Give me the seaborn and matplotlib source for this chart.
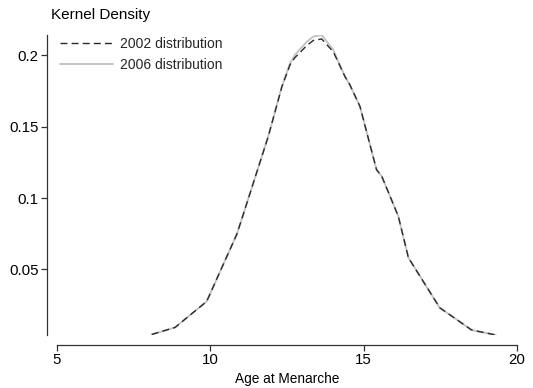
import matplotlib
matplotlib.use("Agg")
import matplotlib.pyplot as plt
import seaborn as sns
import pandas as pd

# Kernel density estimates of age at menarche, evaluated on a common grid
age = [8.09, 8.85, 9.88, 10.86, 11.02, 11.89, 12.33, 12.60, 12.76, 13.15, 13.36,
       13.63, 14.01, 14.39, 14.55, 14.88, 15.42, 15.59, 16.13, 16.46, 17.48,
       18.52, 19.31]
density_2006 = [0.0045, 0.0094, 0.0276, 0.0745, 0.0850, 0.1433, 0.1781, 0.1945,
                0.2004, 0.2097, 0.2132, 0.2143, 0.2038, 0.1852, 0.1794, 0.1642,
                0.1199, 0.1153, 0.0873, 0.0582, 0.0232, 0.0076, 0.0041]
density_2002 = [0.0045, 0.0094, 0.0276, 0.0745, 0.0850, 0.1433, 0.1778, 0.1935,
                0.1985, 0.2070, 0.2105, 0.2115, 0.2025, 0.1852, 0.1794, 0.1642,
                0.1199, 0.1153, 0.0873, 0.0582, 0.0232, 0.0076, 0.0041]
labels = ["2002 distribution", "2006 distribution"]
x_ticks = [5, 10, 15, 20]
y_ticks = [0.05, 0.1, 0.15, 0.2]
y_tick_labels = ["0.05", "0.1", "0.15", "0.2"]

sns.set_style("white")
plt.rcParams["font.family"] = ["Liberation Sans", "DejaVu Sans"]

df = pd.DataFrame({"age": age, "d2002": density_2002, "d2006": density_2006})

fig = plt.figure(figsize=(5.33, 3.88), dpi=100)
ax = fig.add_axes([57 / 533, 1 - 335 / 388, 460 / 533, 300 / 388])

sns.lineplot(data=df, x="age", y="d2006", ax=ax, color="#c4c4c4", linewidth=1.4,
             sort=False, estimator=None)
line06 = ax.lines[-1]
sns.lineplot(data=df, x="age", y="d2002", ax=ax, color="#2a2a2a", linewidth=1.0,
             sort=False, estimator=None)
line02 = ax.lines[-1]
line02.set_dashes((5, 3))

ax.set_xlim(5, 20)
ymin = min(density_2002 + density_2006)
ymax = max(density_2002 + density_2006)
ax.set_ylim(ymin, ymax)

ax.set_xticks(x_ticks)
ax.set_xticklabels([str(t) for t in x_ticks])
ax.set_yticks(y_ticks)
ax.set_yticklabels(y_tick_labels)

# Stata-like detached axes: spines pushed 10 px away from the plot region
gap_pt = 10 * 72 / 100
for side in ("top", "right"):
    ax.spines[side].set_visible(False)
ax.spines["left"].set_position(("outward", gap_pt))
ax.spines["bottom"].set_position(("outward", gap_pt))
for side in ("left", "bottom"):
    ax.spines[side].set_color("#333333")
    ax.spines[side].set_linewidth(0.9)

ax.tick_params(axis="both", which="major", direction="out", length=4, width=0.9,
               color="#333333", labelsize=10.8, labelcolor="black")
ax.tick_params(axis="y", pad=2)
ax.tick_params(axis="x", pad=2)
ax.tick_params(left=True, bottom=True)

ax.set_xlabel("Age at Menarche", fontsize=9.8, labelpad=3, color="black")
ax.set_ylabel("")
fig.text(51 / 533, 1 - 15 / 388, "Kernel Density", fontsize=11,
         ha="left", va="center", color="black")

leg = ax.legend(handles=[line02, line06], labels=labels, loc="upper left",
                bbox_to_anchor=(-0.005, 1.012), frameon=False, fontsize=10,
                handlelength=3.8, handletextpad=0.5, labelspacing=0.5,
                borderaxespad=0.0)

fig.savefig("out.png", dpi=100, facecolor="white")
